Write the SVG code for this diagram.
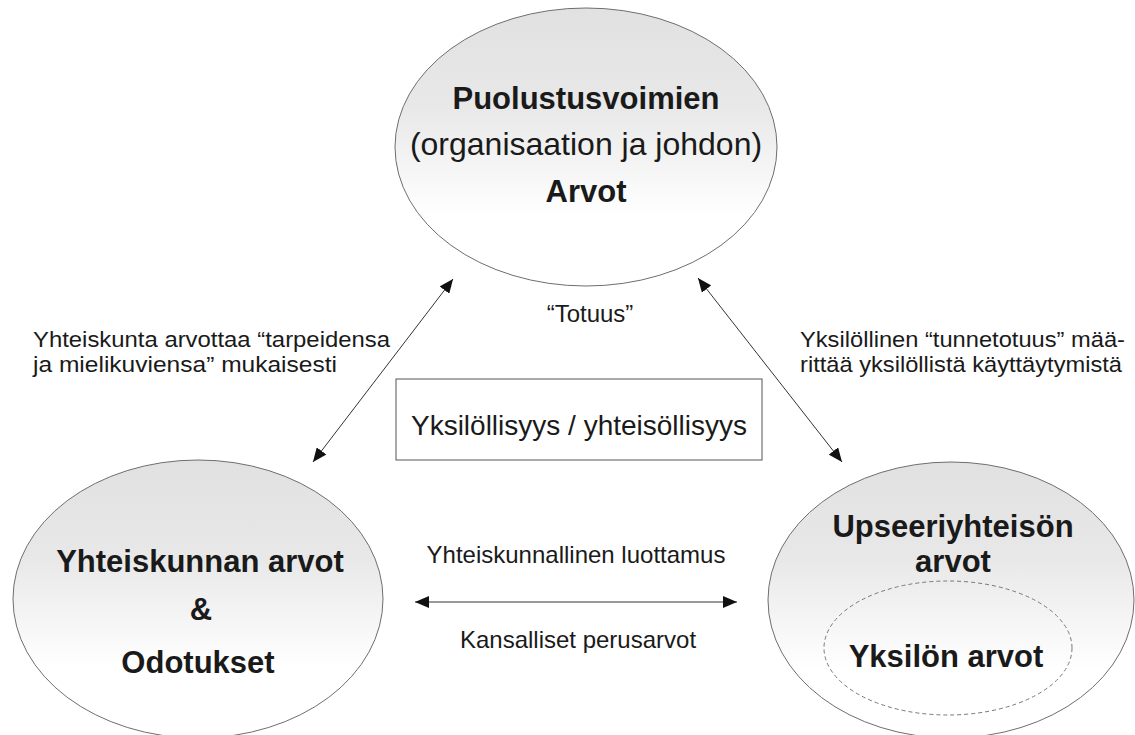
<svg xmlns="http://www.w3.org/2000/svg" width="1135" height="735" viewBox="0 0 1135 735">
<style>
.node{fill:url(#g);stroke:#6e6e6e;stroke-width:1}
.b{font-family:"Liberation Sans",Arial,sans-serif;font-weight:bold;font-size:31px;fill:#1a1a1a;text-anchor:middle}
.r{font-family:"Liberation Sans",Arial,sans-serif;font-size:24px;fill:#1a1a1a}
.s{font-size:21.5px}
.c{text-anchor:middle}
.con{stroke:#333;stroke-width:1;fill:none;marker-start:url(#ah);marker-end:url(#ah)}
</style>
<defs>
<linearGradient id="g" x1="0" y1="0" x2="0" y2="1">
<stop offset="0" stop-color="#e1e1e1"/>
<stop offset="0.35" stop-color="#e8e8e8"/>
<stop offset="0.75" stop-color="#ffffff"/>
<stop offset="1" stop-color="#ffffff"/>
</linearGradient>
<marker id="ah" viewBox="0 0 14 12" refX="14" refY="6" markerWidth="14" markerHeight="12" markerUnits="userSpaceOnUse" orient="auto-start-reverse">
<path d="M0,0 L14,6 L0,12 Z" fill="#111"/>
</marker>
</defs>
<rect width="1135" height="735" fill="#fff"/>
<g id="top-node">
<ellipse class="node" cx="586" cy="147" rx="191" ry="139"/>
<text class="b" x="586" y="109">Puolustusvoimien</text>
<text class="r c" x="586" y="155" style="font-size:32px">(organisaation ja johdon)</text>
<text class="b" x="586" y="202">Arvot</text>
</g>
<g id="left-node">
<ellipse class="node" cx="198" cy="599" rx="185" ry="139"/>
<text class="b" x="200" y="572">Yhteiskunnan arvot</text>
<text class="b" x="201" y="620">&amp;</text>
<text class="b" x="198" y="673">Odotukset</text>
</g>
<g id="right-node">
<ellipse class="node" cx="951" cy="600" rx="183" ry="138"/>
<text class="b" x="953" y="537">Upseeriyhteisön</text>
<text class="b" x="953" y="572">arvot</text>
<ellipse cx="948" cy="648" rx="124" ry="67" fill="none" stroke="#777" stroke-width="1" stroke-dasharray="4,3"/>
<text class="b" x="946" y="667">Yksilön arvot</text>
</g>
<g id="center-box">
<rect x="396" y="379" width="366" height="81" fill="#fff" stroke="#555" stroke-width="1"/>
<text class="r c" x="579" y="435" style="font-size:28px">Yksilöllisyys / yhteisöllisyys</text>
</g>
<g id="connectors">
<line class="con" x1="313" y1="462" x2="453" y2="279"/>
<line class="con" x1="698" y1="278" x2="842" y2="462"/>
<line class="con" x1="415" y1="602" x2="737" y2="602"/>
</g>
<g id="labels">
<text class="r c" x="590" y="322">“Totuus”</text>
<text class="r s" x="33" y="347" textLength="357" lengthAdjust="spacingAndGlyphs">Yhteiskunta arvottaa “tarpeidensa</text>
<text class="r s" x="33" y="372" textLength="304" lengthAdjust="spacingAndGlyphs">ja mielikuviensa” mukaisesti</text>
<text class="r s" x="800" y="347" textLength="325" lengthAdjust="spacingAndGlyphs">Yksilöllinen “tunnetotuus” mää-</text>
<text class="r s" x="800" y="372" textLength="322" lengthAdjust="spacingAndGlyphs">rittää yksilöllistä käyttäytymistä</text>
<text class="r c" x="576" y="563">Yhteiskunnallinen luottamus</text>
<text class="r c" x="578" y="648">Kansalliset perusarvot</text>
</g>
</svg>
